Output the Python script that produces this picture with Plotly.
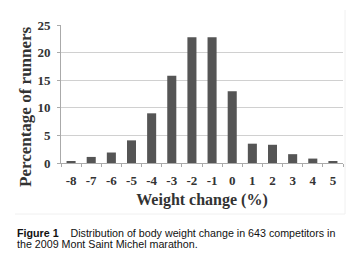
import plotly.graph_objects as go

categories = ["-8", "-7", "-6", "-5", "-4", "-3", "-2", "-1", "0", "1", "2", "3", "4", "5"]
percent_runners = [0.3, 1.1, 1.9, 4.1, 9.0, 15.8, 22.8, 22.8, 13.0, 3.5, 3.3, 1.6, 0.8, 0.3]
y_ticks = [0, 5, 10, 15, 20, 25]

W, H = 354, 264
L, R, T, B = 53, 19, 17, 109
ph = H - T - B
pw = W - L - R

def py(Y):
    return (H - B - Y) / ph

def px(X):
    return (X - L) / pw

serif = "Liberation Serif"
tickfont = dict(family=serif, size=13, color="#333333", weight="bold")

fig = go.Figure(go.Bar(x=categories, y=percent_runners, marker=dict(color="#555555", line=dict(width=0)),
                       width=0.45))

fig.update_layout(
    width=W, height=H, margin=dict(l=L, r=R, t=T, b=B, autoexpand=False),
    paper_bgcolor="white", plot_bgcolor="white", showlegend=False,
    xaxis=dict(type="category", tickson="boundaries", ticks="outside", ticklen=3, tickcolor="#aaaaaa",
               showline=True, linecolor="#aaaaaa", linewidth=1, showgrid=False, automargin=False,
               tickfont=tickfont, ticklabelstandoff=5, tickangle=0,
               title=dict(text="Weight change (%)", font=dict(family=serif, size=16, color="#333333", weight="bold"),
                          standoff=7)),
    yaxis=dict(range=[0, 25], tickvals=y_ticks, ticks="outside", ticklen=3, tickcolor="#aaaaaa",
               showline=True, linecolor="#aaaaaa", linewidth=1, gridcolor="#d0d0d0", gridwidth=1,
               zeroline=False, automargin=False,
               tickfont=tickfont, ticklabelstandoff=4),
)

fig.add_annotation(xref="paper", yref="paper", x=px(17), y=py(99), xanchor="center", yanchor="middle",
                   text="Percentage of runners", textangle=-90, showarrow=False,
                   font=dict(family=serif, size=17, color="#333333", weight="bold"))

# faint frame of the original image
fig.add_shape(type="line", xref="paper", yref="paper", x0=px(337), x1=px(337), y0=py(206), y1=py(2),
              line=dict(color="#f0f0f0", width=1))
fig.add_shape(type="line", xref="paper", yref="paper", x0=px(7), x1=px(337), y0=py(206), y1=py(206),
              line=dict(color="#f0f0f0", width=1))

fig.add_annotation(xref="paper", yref="paper", x=px(7), y=py(225), xanchor="left", yanchor="middle",
                   text="<b>Figure 1</b>    Distribution of body weight change in 643 competitors in",
                   showarrow=False, font=dict(family="Liberation Sans", size=10.7, color="#111111"), align="left")
fig.add_annotation(xref="paper", yref="paper", x=px(7), y=py(236), xanchor="left", yanchor="middle",
                   text="the 2009 Mont Saint Michel marathon.",
                   showarrow=False, font=dict(family="Liberation Sans", size=10.7, color="#111111"), align="left")

fig.write_html("out.html")
